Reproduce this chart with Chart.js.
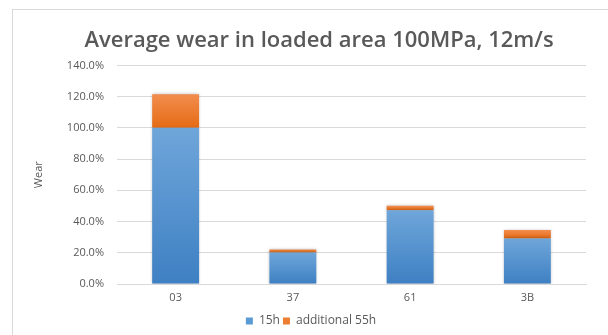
<!DOCTYPE html>
<html>
<head>
<meta charset="utf-8">
<script src="https://cdn.jsdelivr.net/npm/chart.js@4/dist/chart.umd.min.js"></script>
<style>
  html, body { margin: 0; padding: 0; background: #ffffff; }
  #wrap { position: relative; width: 608px; height: 335px; overflow: hidden; }
  #frame { position: absolute; left: 12px; top: 9px; width: 620px; height: 340px; border: 1px solid #d9d9d9; box-sizing: border-box; }
  #c { position: absolute; left: 0; top: 0; }
</style>
</head>
<body>
<div id="wrap">
  <div id="frame"></div>
  <canvas id="c" width="608" height="335"></canvas>
</div>
<script>
// Samples and measured wear (percent)
const categories = ['03', '37', '61', '3B'];
const wear15h = [100.0, 20.2, 47.3, 29.2];
const wearAdditional55h = [21.5, 1.9, 2.8, 5.4];
const seriesNames = ['15h', 'additional 55h'];
const yTicks = { min: 0, max: 140, step: 20 };

const textColor = '#595959';
const fontFamily = "'Open Sans', 'Liberation Sans', sans-serif";

// Vertical gradient for one bar segment, lighter at the top
function segmentGradient(ctx, topColor, bottomColor, lowVals, highVals) {
  const chart = ctx.chart;
  const area = chart.chartArea;
  if (!area || ctx.type !== 'data' || !chart.scales.y) return bottomColor;
  const i = ctx.dataIndex;
  const y = chart.scales.y;
  const yTop = y.getPixelForValue(highVals(i));
  const yBase = y.getPixelForValue(lowVals(i));
  if (!isFinite(yTop) || !isFinite(yBase) || yTop === yBase) return bottomColor;
  const g = chart.ctx.createLinearGradient(0, yTop, 0, yBase);
  g.addColorStop(0, topColor);
  g.addColorStop(1, bottomColor);
  return g;
}

// Soft shadow behind the bars, and title/legend centred on the frame
const layoutTweaks = {
  id: 'layoutTweaks',
  afterLayout(chart) {
    const shift = (box, dx, dy) => {
      if (box) { box.left += dx; box.right += dx; box.top += dy; box.bottom += dy; }
    };
    shift(chart.titleBlock, 12, 0);
    shift(chart.legend, 4, 2);
  },
  beforeDatasetsDraw(chart) {
    const c = chart.ctx;
    c.save();
    c.shadowColor = 'rgba(0,0,0,0.28)';
    c.shadowBlur = 3;
    c.shadowOffsetX = 0;
    c.shadowOffsetY = 0;
  },
  afterDatasetsDraw(chart) {
    chart.ctx.restore();
  }
};

new Chart(document.getElementById('c'), {
  type: 'bar',
  data: {
    labels: categories,
    datasets: [
      {
        label: seriesNames[0],
        data: wear15h,
        backgroundColor: (ctx) => segmentGradient(ctx, '#6fa6da', '#3e80c3',
          () => 0, (i) => wear15h[i]),
        categoryPercentage: 1.0,
        barPercentage: 0.40
      },
      {
        label: seriesNames[1],
        data: wearAdditional55h,
        backgroundColor: (ctx) => segmentGradient(ctx, '#f28d4e', '#e56b14',
          (i) => wear15h[i], (i) => wear15h[i] + wearAdditional55h[i]),
        categoryPercentage: 1.0,
        barPercentage: 0.40
      }
    ]
  },
  plugins: [layoutTweaks],
  options: {
    responsive: false,
    animation: false,
    layout: { padding: { top: 28, left: 28, right: 22, bottom: 0 } },
    plugins: {
      title: {
        display: true,
        text: 'Average wear in loaded area 100MPa, 12m/s',
        color: textColor,
        font: { family: fontFamily, size: 22, weight: '600' },
        padding: { top: 0, bottom: 11 }
      },
      legend: {
        position: 'bottom',
        labels: {
          color: textColor,
          font: { family: fontFamily, size: 12 },
          boxWidth: 7,
          boxHeight: 7,
          padding: 3,
          generateLabels: (chart) => chart.data.datasets.map((ds, i) => ({
            text: ds.label,
            fillStyle: i === 0 ? '#5b9bd5' : '#ed7d31',
            strokeStyle: i === 0 ? '#5b9bd5' : '#ed7d31',
            lineWidth: 0,
            datasetIndex: i,
            fontColor: textColor
          }))
        }
      },
      tooltip: { enabled: false }
    },
    scales: {
      x: {
        stacked: true,
        afterFit: (scale) => { scale.height = 26; },
        grid: { display: false, drawTicks: false },
        border: { display: true, color: '#d9d9d9' },
        ticks: { color: textColor, font: { family: fontFamily, size: 11 }, padding: 7 }
      },
      y: {
        stacked: true,
        min: yTicks.min,
        max: yTicks.max,
        afterFit: (scale) => { scale.width = 89; },
        ticks: {
          stepSize: yTicks.step,
          color: textColor,
          font: { family: fontFamily, size: 11 },
          padding: 13,
          callback: (v) => v.toFixed(1) + '%'
        },
        grid: { color: '#d9d9d9', drawTicks: false },
        border: { display: false },
        title: {
          display: true,
          text: 'Wear',
          color: textColor,
          font: { family: fontFamily, size: 11 },
          padding: { top: 4, bottom: 0 }
        }
      }
    }
  }
});
</script>
</body>
</html>
